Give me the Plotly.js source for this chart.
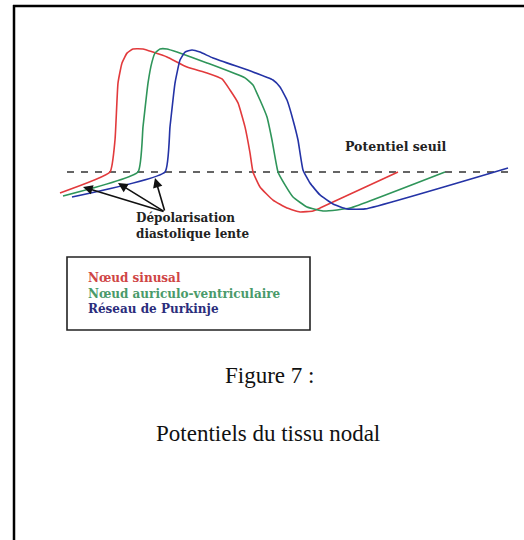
<!DOCTYPE html>
<html>
<head>
<meta charset="utf-8">
<script src="https://cdn.plot.ly/plotly-3.0.1.min.js"></script>
<style>html,body{margin:0;padding:0;background:#fff;}#chart{width:524px;height:540px;}</style>
</head>
<body>
<div id="chart"></div>
<script>
// Time (ms) and membrane potential (mV)
const sinusT = [0, 100, 110, 116, 124, 134, 146, 166, 186, 214, 254, 294, 324, 340, 356, 370, 380, 386, 400, 426, 454, 480, 506, 520, 676];
const sinusV = [-50.2, -40, -24.4, 3.4, 13.2, 18.0, 20.0, 20.0, 18.5, 16.1, 11.2, 8.3, 5.4, 0, -6.3, -18.0, -30.7, -40, -47.3, -53.7, -57.6, -59.5, -59.0, -57.6, -40];

const avT = [6, 156, 166, 176, 184, 190, 200, 214, 234, 294, 370, 386, 400, 414, 424, 436, 450, 466, 494, 526, 554, 580, 770];
const avV = [-51.7, -40, -18.0, 3.4, 13.7, 18.0, 20.0, 20.0, 18.5, 13.2, 5.9, 2.4, -4.9, -13.2, -24.4, -40, -46.3, -52.2, -57.1, -59.0, -58.5, -57.6, -40];

const purkT = [24, 210, 220, 230, 240, 250, 264, 280, 306, 386, 426, 440, 454, 466, 476, 486, 500, 520, 546, 574, 610, 896];
const purkV = [-52.2, -40, -18.0, 3.4, 14.6, 18.5, 19.5, 18.5, 15.6, 8.8, 4.9, 1.5, -4.9, -14.6, -24.4, -39.0, -45.4, -51.2, -55.6, -58.0, -58.0, -38.0];

const thresholdT = [14, 896];
const thresholdV = [-40, -40];

// arrows: heads on the slow depolarisation slopes, common tail
const arrowHeadT = [46, 116, 190];
const arrowHeadV = [-47.3, -45.4, -42.9];
const arrowTailT = 210;
const arrowTailV = -59.5;

const seriesNames = ["Nœud sinusal", "Nœud auriculo-ventriculaire", "Réseau de Purkinje"];
const lineColors = ["#e23a3c", "#2f955a", "#2433a6"];
const labelColors = ["#cf4545", "#4a9a6a", "#2b2d7c"];

const W = 524, H = 540;
const px = x => x / W;
const py = y => 1 - y / H;

const traces = [
  {x: thresholdT, y: thresholdV, mode: "lines", line: {color: "#333", width: 1.5, dash: "7px,7px"}, hoverinfo: "skip"},
  {x: sinusT, y: sinusV, name: seriesNames[0], mode: "lines", line: {color: lineColors[0], width: 1.6, shape: "spline", smoothing: 0.4}},
  {x: avT, y: avV, name: seriesNames[1], mode: "lines", line: {color: lineColors[1], width: 1.6, shape: "spline", smoothing: 0.4}},
  {x: purkT, y: purkV, name: seriesNames[2], mode: "lines", line: {color: lineColors[2], width: 1.6, shape: "spline", smoothing: 0.4}}
];

const boldFont = (c, s) => ({family: "DejaVu Serif", size: s, color: c});

const annotations = [];
arrowHeadT.forEach((t, i) => {
  annotations.push({x: t, y: arrowHeadV[i], xref: "x", yref: "y", ax: arrowTailT, ay: arrowTailV, axref: "x", ayref: "y",
    text: "", showarrow: true, arrowhead: 2, arrowsize: 1.2, arrowwidth: 1.6, arrowcolor: "#111"});
});
annotations.push({x: px(134), y: py(226), xref: "paper", yref: "paper", xanchor: "left", yanchor: "middle", align: "left", showarrow: false,
  text: "<b>Dépolarisation</b><br><b>diastolique lente</b>", font: boldFont("#222", 12)});
annotations.push({x: px(343), y: py(146), xref: "paper", yref: "paper", xanchor: "left", yanchor: "middle", showarrow: false,
  text: "<b>Potentiel seuil</b>", font: boldFont("#222", 12.5)});
const legendText = seriesNames.map((n, i) => '<span style="color:' + labelColors[i] + '"><b>' + n + '</b></span>').join("<br>");
annotations.push({x: px(86), y: py(293), xref: "paper", yref: "paper", xanchor: "left", yanchor: "middle", align: "left", showarrow: false,
  text: legendText, font: boldFont("#222", 12)});
annotations.push({x: px(269), y: py(375), xref: "paper", yref: "paper", xanchor: "center", yanchor: "middle", showarrow: false,
  text: "Figure 7 :", font: {family: "Liberation Serif", size: 23, color: "#111"}});
annotations.push({x: px(268), y: py(433), xref: "paper", yref: "paper", xanchor: "center", yanchor: "middle", showarrow: false,
  text: "Potentiels du tissu nodal", font: {family: "Liberation Serif", size: 23, color: "#111"}});

const shapes = [
  {type: "line", xref: "paper", yref: "paper", x0: px(13), x1: 1, y0: py(6), y1: py(6), line: {color: "#000", width: 2.5}},
  {type: "line", xref: "paper", yref: "paper", x0: px(14), x1: px(14), y0: py(5), y1: 0, line: {color: "#000", width: 2.5}},
  {type: "rect", xref: "paper", yref: "paper", x0: px(67), x1: px(310), y0: py(330), y1: py(257), line: {color: "#222", width: 1.6}}
];

const layout = {
  width: W, height: H,
  margin: {l: 0, r: 0, t: 0, b: 0},
  paper_bgcolor: "#fff", plot_bgcolor: "#fff",
  showlegend: false,
  xaxis: {range: [(0 - 60) * 2, (W - 60) * 2], visible: false, fixedrange: true},
  yaxis: {range: [-40 - (H - 172) / 2.05, -40 + 172 / 2.05], visible: false, fixedrange: true},
  annotations: annotations,
  shapes: shapes
};

Plotly.newPlot("chart", traces, layout, {displayModeBar: false, staticPlot: true});
</script>
</body>
</html>
